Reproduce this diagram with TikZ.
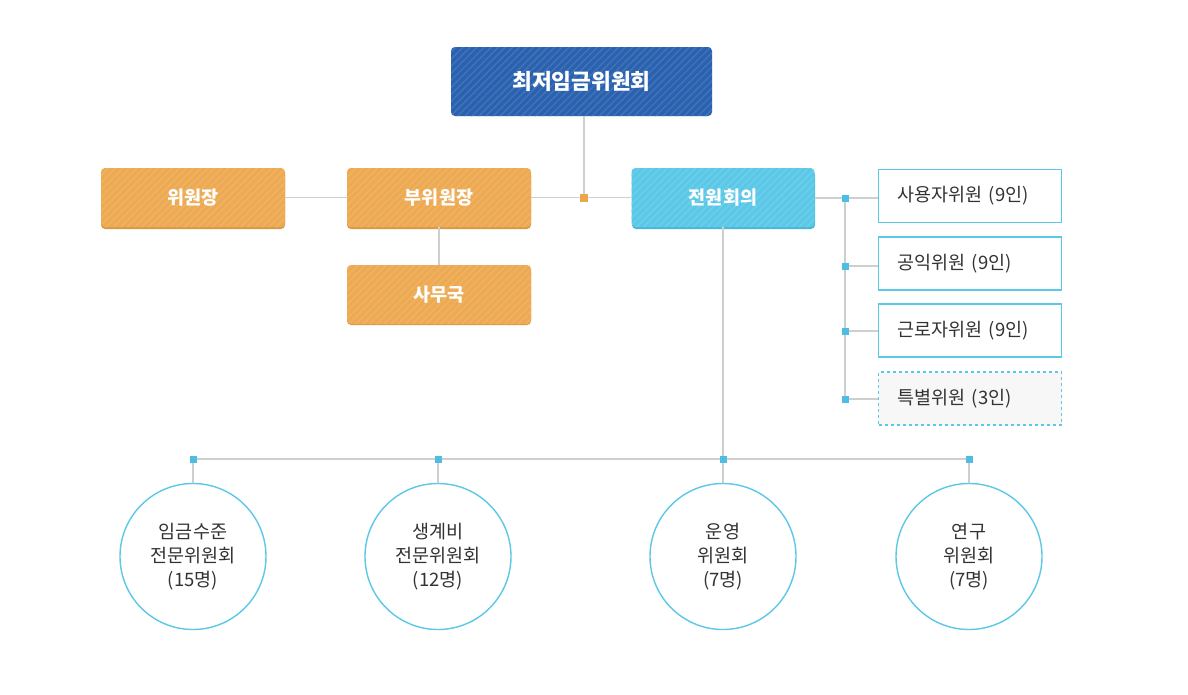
\documentclass[tikz,border=0pt]{standalone}
\usepackage{fontspec}
\setmainfont{Noto Sans CJK KR}
\usetikzlibrary{patterns.meta}
\definecolor{navy}{HTML}{2B62B0}
\definecolor{orng}{HTML}{EDAA52}
\definecolor{orngd}{HTML}{D99A46}
\definecolor{sky}{HTML}{5CC8E8}
\definecolor{skyd}{HTML}{4DB6D6}
\definecolor{conn}{HTML}{CFCFCF}
\definecolor{dot}{HTML}{4DBDE5}
\definecolor{dotor}{HTML}{EAA64A}
\definecolor{txt}{HTML}{333333}
\tikzset{
  x=1pt,y=-1pt,
  stripes/.style={postaction={pattern={Lines[angle=45,distance=5pt,line width=1.2pt]},pattern color=#1!88!white}},
  solidbox/.style={draw=none,rounded corners=4pt,text=white,font=\bfseries\fontsize{18.5}{22}\selectfont,inner sep=0pt},
  bluebox/.style={solidbox,fill=navy,stripes=navy,minimum width=261,minimum height=69,font=\bfseries\fontsize{21.5}{26}\selectfont},
  orbox/.style={solidbox,fill=orng,stripes=orng,minimum width=184,minimum height=59},
  skybox/.style={solidbox,fill=sky,stripes=sky,minimum width=183,minimum height=59},
  member/.style={draw=sky,line width=1.2pt,fill=white,minimum height=53,text width=145,align=left,inner xsep=19,inner ysep=0,text=txt,font=\fontsize{18.5}{22}\selectfont},
  special/.style={member,dashed,fill=black!3},
  comm/.style={circle,draw=sky,line width=1.4pt,minimum size=146,text=txt,align=center,font=\fontsize{18.5}{24}\selectfont,inner sep=0pt},
  cline/.style={draw=conn,line width=1.2pt},
  dotsq/.style={fill=dot,minimum size=7,inner sep=0pt},
  dotorsq/.style={fill=dotor,minimum size=8,inner sep=0pt},
}
\begin{document}
\begin{tikzpicture}
\useasboundingbox (0,0) rectangle (1188,694);
\fill[white] (0,0) rectangle (1188,694);
% shadows
\fill[orngd,rounded corners=4pt] (101,171) rectangle (285,229);
\fill[orngd,rounded corners=4pt] (347,171) rectangle (531,229);
\fill[orngd,rounded corners=4pt] (347,268) rectangle (531,325);
\fill[skyd,rounded corners=4pt] (632,171) rectangle (815,229);
% boxes
\node[bluebox] (top) at (581.5,81.5) {최저임금위원회};
\node[orbox] (chair) at (193,197.5) {위원장};
\node[orbox] (vice) at (439,197.5) {부위원장};
\node[orbox] (sec) at (439,294.5) {사무국};
\node[skybox] (plen) at (723,197.5) {전원회의};
\node[member] (emp) at (970,196) {사용자위원 (9인)};
\node[member] (pub) at (970,263.5) {공익위원 (9인)};
\node[member] (lab) at (970,330.5) {근로자위원 (9인)};
\node[special] (spc) at (970,398.5) {특별위원 (3인)};
\node[comm] (c1) at (193,556.5) {임금수준\\전문위원회\\(15명)};
\node[comm] (c2) at (438,556.5) {생계비\\전문위원회\\(12명)};
\node[comm] (c3) at (723,556.5) {운영\\위원회\\(7명)};
\node[comm] (c4) at (969,556.5) {연구\\위원회\\(7명)};
% junction coordinates
\coordinate (jt) at (584,198);
\coordinate (jr) at (845,198);
\coordinate (jr2) at (845,266);
\coordinate (jr3) at (845,331);
\coordinate (jr4) at (845,399);
\coordinate (jb1) at (193,459);
\coordinate (jb2) at (438,459);
\coordinate (jb3) at (723,459);
\coordinate (jb4) at (969,459);
% connectors
\path[cline] (chair.east) -- (vice.west);
\path[cline] (vice.east) -- (plen.west);
\path[cline] (top.south -| jt) -- (jt);
\path[cline] (vice.south) -- (sec.north);
\path[cline] (plen.east |- jr) -- (jr) -- (jr4);
\path[cline] (jr) -- (emp.west |- jr);
\path[cline] (jr2) -- (pub.west |- jr2);
\path[cline] (jr3) -- (lab.west |- jr3);
\path[cline] (jr4) -- (spc.west |- jr4);
\path[cline] (plen.south) -- (jb3);
\path[cline] (jb1) -- (jb4);
\path[cline] (jb1) -- (c1.north);
\path[cline] (jb2) -- (c2.north);
\path[cline] (jb3) -- (c3.north);
\path[cline] (jb4) -- (c4.north);
% dots
\node[dotorsq] at (jt) {};
\foreach \p in {jr,jr2,jr3,jr4,jb1,jb2,jb3,jb4} \node[dotsq] at (\p) {};
\end{tikzpicture}
\end{document}
